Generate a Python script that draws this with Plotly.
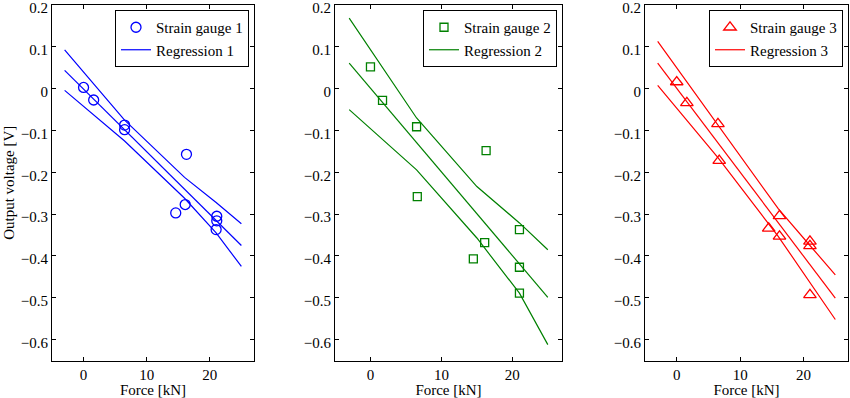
import plotly.graph_objects as go

# ---- data ----
force_1 = [0, 1.6, 6.5, 6.5, 14.6, 16.1, 16.3, 21.1, 21.1, 21.0]
volt_1 = [0.003, -0.027, -0.087, -0.098, -0.297, -0.277, -0.157, -0.305, -0.316, -0.337]
force_2 = [0, 1.7, 6.5, 6.6, 14.5, 16.1, 16.3, 21.0, 21.0, 21.0]
volt_2 = [0.052, -0.028, -0.091, -0.258, -0.407, -0.368, -0.148, -0.337, -0.427, -0.489]
force_3 = [0, 1.6, 6.5, 6.7, 14.5, 16.2, 16.2, 21.0, 21.0, 21.0]
volt_3 = [0.016, -0.034, -0.084, -0.172, -0.334, -0.304, -0.353, -0.365, -0.376, -0.493]

reg_x_1 = [-3, 6.5, 16, 21, 25]
reg_up_1 = [0.093, -0.075, -0.212, -0.272, -0.323]
reg_mid_1 = [0.044, -0.098, -0.240, -0.315, -0.375]
reg_lo_1 = [-0.004, -0.125, -0.262, -0.345, -0.425]

reg_x_2 = [-3, 6.5, 15, 21, 25]
reg_up_2 = [0.169, -0.070, -0.234, -0.321, -0.385]
reg_mid_2 = [0.061, -0.129, -0.299, -0.419, -0.499]
reg_lo_2 = [-0.050, -0.194, -0.357, -0.489, -0.612]

reg_x_3 = [-3, 6.5, 16, 21, 25]
reg_up_3 = [0.113, -0.088, -0.287, -0.375, -0.445]
reg_mid_3 = [0.061, -0.130, -0.320, -0.420, -0.501]
reg_lo_3 = [0.008, -0.165, -0.353, -0.464, -0.552]

gauge_names = ["Strain gauge 1", "Strain gauge 2", "Strain gauge 3"]
reg_names = ["Regression 1", "Regression 2", "Regression 3"]
x_ticks = [0, 10, 20]
y_ticks = [0.2, 0.1, 0, -0.1, -0.2, -0.3, -0.4, -0.5, -0.6]

W, H = 850, 398
FONT = "Liberation Serif"
FS = 15
colors = ["#0000ff", "#008000", "#ff0000"]
symbols = ["circle-open", "square-open", "triangle-up-open"]
msizes = [10, 8, 11]
px_boxes = [(52, 254), (335, 562), (645, 848)]
top_px, bot_px = 5, 360.5

forces = [force_1, force_2, force_3]
volts = [volt_1, volt_2, volt_3]
regs = [(reg_x_1, reg_up_1, reg_mid_1, reg_lo_1),
        (reg_x_2, reg_up_2, reg_mid_2, reg_lo_2),
        (reg_x_3, reg_up_3, reg_mid_3, reg_lo_3)]

fig = go.Figure()
layout = dict(
    width=W, height=H,
    margin=dict(l=0, r=0, t=0, b=0, autoexpand=False),
    paper_bgcolor="white", plot_bgcolor="white",
    font=dict(family=FONT, size=FS, color="black"),
)

for i in range(3):
    sfx = "" if i == 0 else str(i + 1)
    xa, ya = "x" + sfx, "y" + sfx
    lg = "legend" + sfx
    rx, up, mid, lo = regs[i]
    fig.add_trace(go.Scatter(
        x=forces[i], y=volts[i], mode="markers", name=gauge_names[i],
        marker=dict(symbol=symbols[i], size=msizes[i], color=colors[i],
                    line=dict(width=1.3, color=colors[i])),
        xaxis=xa, yaxis=ya, legend=lg))
    fig.add_trace(go.Scatter(
        x=rx, y=mid, mode="lines", name=reg_names[i],
        line=dict(color=colors[i], width=1.2),
        xaxis=xa, yaxis=ya, legend=lg))
    for band in (up, lo):
        fig.add_trace(go.Scatter(
            x=rx, y=band, mode="lines", showlegend=False,
            line=dict(color=colors[i], width=1.2),
            xaxis=xa, yaxis=ya))

    l, r = px_boxes[i]
    axis_common = dict(
        showline=True, linecolor="black", linewidth=1, mirror="ticks",
        ticks="inside", ticklen=4, tickcolor="black", tickwidth=1,
        showgrid=False, zeroline=False, ticklabeloverflow="allow",
        automargin=False,
        tickfont=dict(family=FONT, size=FS, color="black"),
    )
    layout["xaxis" + sfx] = dict(
        axis_common, domain=[l / W, r / W], range=[-5, 27],
        tickvals=x_ticks, anchor=ya,
        title=dict(text="Force [kN]", standoff=1,
                   font=dict(family=FONT, size=FS, color="black")),
    )
    yax = dict(
        axis_common, domain=[1 - bot_px / H, 1 - top_px / H],
        range=[-0.65, 0.2002], tickvals=y_ticks, anchor=xa,
        ticklabelshift=3,
    )
    if i == 0:
        yax["title"] = dict(text="Output voltage [V]", standoff=2,
                            font=dict(family=FONT, size=FS, color="black"))
    layout["yaxis" + sfx] = yax
    layout[lg] = dict(
        x=(r - 5) / W, y=1 - 10 / H, xanchor="right", yanchor="top",
        bgcolor="white", bordercolor="black", borderwidth=1,
        font=dict(family=FONT, size=FS, color="black"),
        tracegroupgap=0, itemwidth=30,
    )

fig.update_layout(**layout)
fig.write_html("out.html", config={"displayModeBar": False})

# remove the default page margin so the figure fills the window exactly
with open("out.html", encoding="utf-8") as f:
    html = f.read()
html = html.replace("<head>", "<head><style>html,body{margin:0;padding:0;overflow:hidden;}</style>", 1)
with open("out.html", "w", encoding="utf-8") as f:
    f.write(html)
